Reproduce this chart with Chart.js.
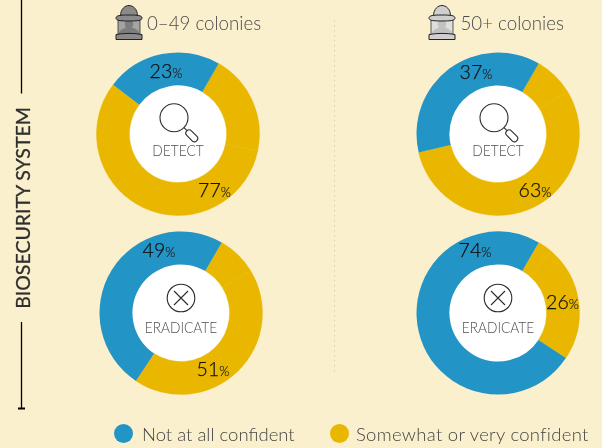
<!DOCTYPE html>
<html><head><meta charset="utf-8">
<script src="https://cdn.jsdelivr.net/npm/chart.js@4"></script>
<style>
html,body{margin:0;padding:0;background:#FBF0CD;}
#page{position:relative;width:602px;height:448px;overflow:hidden;background:#FBF0CD;font-family:Lato,"Open Sans",sans-serif;font-weight:300;color:#444;}
#page canvas{position:absolute;}
.t{position:absolute;white-space:nowrap;line-height:1;}
.c{transform:translate(-50%,-50%);}
.num{font-size:19.500px;color:#111;font-weight:300;-webkit-text-stroke:0.25px #111;}
.num small{font-size:13px;color:#222;-webkit-text-stroke:0.15px #222;}
.col{font-size:18.700px;color:#4a4a4a;}
.lab{font-size:15.500px;color:#4f4f4f;transform:translate(-50%,-50%) scaleX(0.885);}
.leg{font-size:18.500px;color:#444;}
.dot{position:absolute;width:19px;height:19px;border-radius:50%;}
svg{position:absolute;overflow:visible;}
</style></head><body><div id="page"></div>
<script>
const seriesLabels=['Very confident','Somewhat confident','Not at all confident'];
const detectSmall=[20,57,23];
const detectLarge=[8,55,37];
const eradicateSmall=[8,43,49];
const eradicateLarge=[3,23,74];
const columnLabels=['0–49 colonies','50+ colonies'];
const rowLabels=['DETECT','ERADICATE'];
const legendLabels=['Not at all confident','Somewhat or very confident'];
const axisTitle='BIOSECURITY SYSTEM';
const colors=['#E9B700','#E9B700','#2394C6'];

const page=document.getElementById('page');
const BOX=170;
const hole={id:'hole',beforeDatasetsDraw(ch){
  const a=ch.getDatasetMeta(0).data[0],c=ch.ctx;
  c.save();c.fillStyle='#fff';c.beginPath();c.arc(a.x,a.y,a.innerRadius+0.5,0,Math.PI*2);c.fill();c.restore();
}};
function text(s,x,y,cls,html){const d=document.createElement('div');d.className='t '+cls;d.style.left=x+'px';d.style.top=y+'px';
  if(html)d.innerHTML=s;else d.textContent=s;page.appendChild(d);return d;}
function svg(markup){page.insertAdjacentHTML('beforeend',markup);}

function donut(values,cx,cy,name,nameDy,pcts){
  const cv=document.createElement('canvas');
  cv.style.left=(cx-BOX/2)+'px';cv.style.top=(cy-BOX/2)+'px';cv.style.width=BOX+'px';cv.style.height=BOX+'px';
  cv.width=BOX;cv.height=BOX;page.appendChild(cv);
  new Chart(cv,{type:'doughnut',data:{labels:seriesLabels,datasets:[{data:values,backgroundColor:colors,borderColor:colors,borderWidth:[0.4,0.4,0],hoverOffset:0}]},
    options:{responsive:false,animation:false,rotation:30,radius:81.5,cutout:'59.6%',layout:{padding:0},
      plugins:{legend:{display:false},tooltip:{enabled:false}}},plugins:[hole]});
  pcts.forEach(p=>text(p[0]+'<small>%</small>',p[1],p[2],'c num',true));
  text(name,cx,cy+nameDy,'c lab');
}
donut(detectSmall,178,133.7,rowLabels[0],17.5,[[23,166,71],[77,214.5,190]]);
donut(detectLarge,497.8,133.7,rowLabels[0],17.5,[[37,476,72],[63,535,190]]);
donut(eradicateSmall,180.8,312.5,rowLabels[1],15.5,[[49,159,250],[51,213,369]]);
donut(eradicateLarge,498,312.5,rowLabels[1],15.5,[[74,475,250],[26,562.5,302]]);

function lens(cx,cy){svg(`<svg style="left:0;top:0" width="602" height="448"><g fill="none" stroke="#2b2b2b" stroke-width="1.1">
<circle cx="${cx}" cy="${cy}" r="14"/><path d="M${cx+10} ${cy+10}l3 3"/>
<rect x="${cx+13}" y="${cy+10}" width="14" height="6.5" rx="3.2" transform="rotate(45 ${cx+13} ${cy+13})" fill="#fff"/></g></svg>`);}
function cross(cx,cy){svg(`<svg style="left:0;top:0" width="602" height="448"><g fill="none" stroke="#2b2b2b" stroke-width="1.1">
<circle cx="${cx}" cy="${cy}" r="13.8"/><path d="M${cx-7} ${cy-7}L${cx+7} ${cy+7}M${cx+7} ${cy-7}L${cx-7} ${cy+7}"/></g></svg>`);}
lens(174,117.7);lens(494,117.7);cross(181,298);cross(498,298);

function keeper(x,fill,dark,veil){svg(`<svg style="left:${x}px;top:5px" width="28" height="35" viewBox="0 0 28 35">
<path d="M3 30V14H25V30Z" fill="${veil}" stroke="#333" stroke-width="0.8"/>
<path d="M4 30V27C6 24 9 23.500 11 22.500C9 20 9 15 14 15C19 15 19 20 17 22.500C19 23.500 22 24 24 27V30Z" fill="${dark}"/>
<path d="M1 34.500V29.500C9 28 19 28 27 29.500V34.500Z" fill="${fill}" stroke="#222" stroke-width="1"/>
<path d="M5.500 11C5.500 4 10 0.500 14 0.500C18 0.500 22.500 4 22.500 11Z" fill="${fill}" stroke="#222" stroke-width="1"/>
<path d="M1 13C1 10.500 5 10 14 10C23 10 27 10.500 27 13C27 15.500 23 16 14 16C5 16 1 15.500 1 13Z" fill="${fill}" stroke="#222" stroke-width="1"/></svg>`);}
keeper(114.5,'#8a8a8a','#7d7d7d','#a4a4a0');keeper(428,'#cfcfcf','#c2c2c2','#e0e0da');
text(columnLabels[0],147,13.5,'col');
text(columnLabels[1],460.5,13.5,'col');

svg(`<svg style="left:0;top:0" width="602" height="448"><g stroke="#000" stroke-width="1.3" fill="none">
<path d="M21.500 0V93.500M21.500 322V408.500"/><path d="M18 408.500H25" stroke-width="2"/></g>
<path d="M334.500 20V375" stroke="#d8cfae" stroke-width="1" stroke-dasharray="1.500 3.500" fill="none"/></svg>`);
const at=text(axisTitle,23,207.5,'',false);
at.style.cssText+=';font-size:19.500px;font-weight:400;-webkit-text-stroke:0.3px #2f2f2f;color:#2f2f2f;transform:translate(-50%,-50%) rotate(-90deg)';

const d1=document.createElement('div');d1.className='dot';d1.style.cssText+=';left:114px;top:424px;background:'+colors[2];page.appendChild(d1);
const d2=document.createElement('div');d2.className='dot';d2.style.cssText+=';left:330px;top:424px;background:'+colors[0];page.appendChild(d2);
text(legendLabels[0],142,425,'leg');
const l2=text(legendLabels[1],356,425,'leg');l2.style.letterSpacing='0.3px';
</script></body></html>
